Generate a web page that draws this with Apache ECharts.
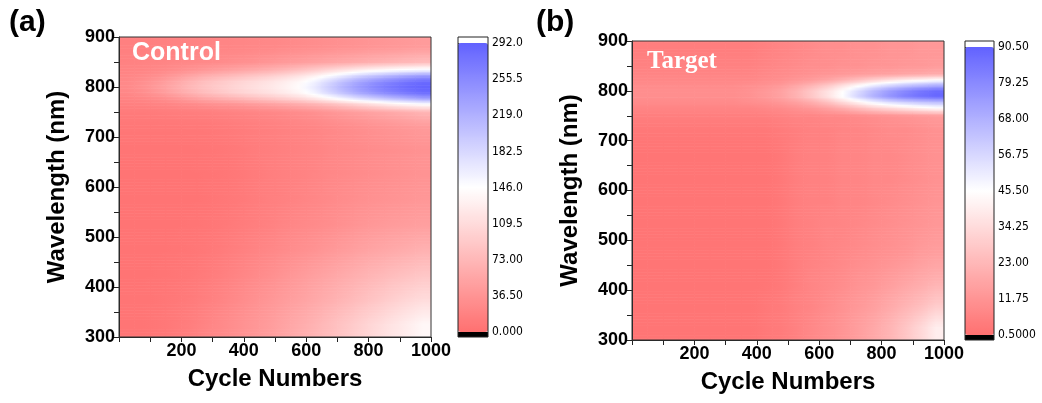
<!DOCTYPE html>
<html><head><meta charset="utf-8">
<script src="https://cdn.jsdelivr.net/npm/echarts@6/dist/echarts.min.js"></script>
<style>html,body{margin:0;padding:0;background:#fff}#c{width:1042px;height:403px}</style>
</head><body><div id="c"></div>
<script>
// ---- data ----
const cycleEdges = [0,50,100,150,200,250,300,350,400,450,500,550,600,650,700,750,800,850,900,950,1000];
const wlEdges = [300,350,400,450,500,550,600,650,700,740,760,772,784,794,806,816,828,840,860,900];
const xTickLabels = [200,400,600,800,1000];
const yTickLabels = [300,400,500,600,700,800,900];
const cbLabelsA = ['0.000','36.50','73.00','109.5','146.0','182.5','219.0','255.5','292.0'];
const cbLabelsB = ['0.5000','11.75','23.00','34.25','45.50','56.75','68.00','79.25','90.50'];
const rangeA = [0, 292];
const rangeB = [0.5, 90.5];
// rows: index 0 = lowest wavelength band
const controlValues = [
 [5,5,7,10,14,20,26,32,38,44,52,60,68,78,88,98,108,118,128,138],
 [5,5,6,8,11,15,20,26,32,38,44,50,57,64,72,80,88,96,104,110],
 [4,4,5,6,8,11,15,20,25,30,36,42,48,54,60,66,72,78,83,88],
 [4,4,4,5,6,8,11,15,19,23,27,31,35,40,45,50,54,58,62,66],
 [4,4,4,4,5,6,8,11,14,17,21,24,27,30,34,38,41,44,46,48],
 [4,4,4,4,4,5,7,9,12,15,17,20,23,26,29,32,34,36,38,40],
 [4,4,4,4,4,5,6,8,11,14,16,18,21,24,26,28,30,32,34,36],
 [5,5,5,5,5,6,7,9,12,14,16,18,20,23,25,27,29,31,33,35],
 [7,7,7,7,8,8,10,12,14,16,18,20,22,25,28,31,34,37,40,43],
 [11,11,12,13,14,15,17,19,21,23,26,29,33,38,43,48,53,58,64,70],
 [16,17,19,22,26,30,34,38,43,48,54,60,68,78,90,103,116,128,138,146],
 [20,23,28,36,46,56,64,72,80,88,98,108,123,143,163,183,198,213,226,238],
 [24,30,40,53,66,78,88,98,106,114,124,136,156,183,208,230,248,262,274,283],
 [26,33,44,58,72,84,94,104,112,120,130,143,166,194,220,242,260,274,284,290],
 [25,31,41,54,68,80,90,100,108,116,126,138,158,184,210,232,250,264,276,284],
 [22,26,32,42,53,64,72,80,88,96,106,118,133,153,173,193,208,222,234,244],
 [20,21,24,28,34,40,46,52,58,64,72,82,93,106,118,130,140,148,154,158],
 [18,19,20,22,24,26,28,31,34,38,42,46,50,54,58,62,66,70,74,78],
 [16,16,17,18,19,20,21,22,23,24,26,28,30,32,34,36,38,40,42,44]
];
const targetValues = [
 [2,2,2,2,2,2,2,2,3,4,6,8,10,12,15,18,22,27,33,40],
 [2,2,2,2,2,2,2,2,3,4,6,7,9,11,13,15,18,21,24,28],
 [2,2,2,2,2,2,2,2,2,3,5,7,8,9,11,12,14,16,18,20],
 [2,2,2,2,2,2,2,2,2,3,5,6,7,8,9,10,11,12,14,15],
 [2,2,2,2,2,2,2,2,2,3,5,6,7,7,8,9,10,11,12,13],
 [2,2,2,2,2,2,2,2,2,3,5,6,6,7,7,8,9,10,11,12],
 [2,2,2,2,2,2,2,2,2,3,5,6,6,7,7,8,8,9,10,11],
 [2,2,2,2,2,2,2,2,2,3,5,6,6,7,7,8,8,9,10,11],
 [3,3,3,3,3,3,3,3,3,4,5,6,6,7,7,8,9,9,10,11],
 [5,5,5,5,5,5,5,5,5,6,7,7,8,8,9,10,11,12,13,14],
 [7,7,7,7,7,7,7,7,8,9,11,13,16,20,25,30,34,38,42,45],
 [9,9,9,9,9,9,9,10,11,13,16,20,26,34,42,50,56,60,63,65],
 [10,10,10,10,10,10,10,11,13,16,21,28,36,46,58,68,76,82,86,89],
 [10,10,10,10,10,10,10,11,13,16,21,28,36,45,56,66,74,80,85,88],
 [9,9,9,9,9,9,9,10,11,13,17,22,28,36,44,52,58,63,67,70],
 [8,8,8,8,8,8,8,8,9,10,12,14,17,21,26,31,36,40,43,46],
 [7,7,7,7,7,7,7,7,8,9,10,11,12,13,14,15,16,17,18,19],
 [6,6,6,6,6,6,6,6,7,8,9,10,10,11,11,12,12,13,13,14],
 [5,5,5,5,5,5,5,5,6,7,8,9,10,10,11,11,12,12,13,13]
];

// ---- build ----
const palette = ['#ff7070', '#ffffff', '#6262ff'];
const xCenters = cycleEdges.slice(0, -1).map((e, i) => (e + cycleEdges[i+1]) / 2);
const yCenters = wlEdges.slice(0, -1).map((e, j) => (e + wlEdges[j+1]) / 2);
function cells(mat){
  const out = [];
  mat.forEach((row, j) => row.forEach((v, i) => out.push([i, j, v])));
  return out;
}
function colorAt(v, range){
  let t = (v - range[0]) / (range[1] - range[0]);
  t = Math.max(0, Math.min(1, t));
  return echarts.color.lerp(t, palette);
}
function bracket(centers, x){
  const n = centers.length;
  if (x <= centers[0]) return [0, 0, 0];
  if (x >= centers[n-1]) return [n-1, n-1, 0];
  let k = 0;
  while (centers[k+1] < x) k++;
  return [k, k+1, (x - centers[k]) / (centers[k+1] - centers[k])];
}
// smooth shading between the read cell values (display only)
function shade(mat, x, y){
  const [i0, i1, fx] = bracket(xCenters, x);
  const [j0, j1, fy] = bracket(yCenters, y);
  const a = mat[j0][i0] * (1 - fx) + mat[j0][i1] * fx;
  const b = mat[j1][i0] * (1 - fx) + mat[j1][i1] * fx;
  return a * (1 - fy) + b * fy;
}
function makeRenderer(mat, range){
  return function(params, api){
    const i = api.value(0), j = api.value(1);
    const x0 = cycleEdges[i], x1 = cycleEdges[i+1], xc = xCenters[i];
    const y0 = wlEdges[j], y1 = wlEdges[j+1];
    const pa = api.coord([x0, y0]), pb = api.coord([x1, y1]);
    const hPx = pa[1] - pb[1];
    const n = Math.max(1, Math.ceil(hPx / 1.5));
    const children = [];
    for (let k = 0; k < n; k++){
      const ya = y0 + (y1 - y0) * k / n, yb = y0 + (y1 - y0) * (k + 1) / n;
      const ym = (ya + yb) / 2;
      const q0 = api.coord([x0, ya]), q1 = api.coord([x1, yb]);
      const grad = new echarts.graphic.LinearGradient(0, 0, 1, 0, [
        {offset:0, color:colorAt(shade(mat, x0, ym), range)},
        {offset:0.5, color:colorAt(shade(mat, xc, ym), range)},
        {offset:1, color:colorAt(shade(mat, x1, ym), range)}
      ]);
      children.push({type:'rect', shape:{x:q0[0]-0.3, y:q1[1]-0.3, width:q1[0]-q0[0]+0.6, height:q0[1]-q1[1]+0.6},
        style:{fill:grad}});
    }
    return {type:'group', children};
  };
}
const SANS = 'Liberation Sans, Arial, Helvetica, sans-serif';
const NARROW = 'DejaVu Sans Condensed, Liberation Sans Narrow, Arial Narrow, sans-serif';

function mainX(gi){
  return {gridIndex: gi, type:'value', min:0, max:1000, interval:100, z:10,
    name:'Cycle Numbers', nameLocation:'middle', nameGap:30,
    nameTextStyle:{fontFamily:SANS, fontWeight:'bold', fontSize:24, color:'#000'},
    axisLine:{lineStyle:{color:'#222', width:1}},
    axisTick:{length:5, lineStyle:{color:'#222'}},
    axisLabel:{margin:5, fontFamily:SANS, fontWeight:'bold', fontSize:18, color:'#000',
      formatter: v => xTickLabels.indexOf(v) >= 0 ? String(v) : ''},
    splitLine:{show:false}};
}
function mainY(gi){
  return {gridIndex: gi, type:'value', min:300, max:900, interval:50, z:10,
    name:'Wavelength (nm)', nameLocation:'middle', nameGap:50,
    nameTextStyle:{fontFamily:SANS, fontWeight:'bold', fontSize:24, color:'#000'},
    axisLine:{lineStyle:{color:'#222', width:1}},
    axisTick:{length:5, lineStyle:{color:'#222'}},
    axisLabel:{margin:4, fontFamily:SANS, fontWeight:'bold', fontSize:18, color:'#000',
      formatter: v => yTickLabels.indexOf(v) >= 0 ? String(v) : ''},
    splitLine:{show:false}};
}
function cbX(gi){ return {gridIndex:gi, type:'value', show:false, min:0, max:1}; }
function cbY(gi, labels){
  return {gridIndex:gi, type:'value', min:0, max:8, interval:1, position:'right',
    axisLine:{show:false}, splitLine:{show:false},
    axisTick:{show:true, length:5, lineStyle:{color:'#444'}},
    axisLabel:{margin:4, fontFamily:NARROW, fontSize:12, color:'#000', formatter: v => labels[v]}};
}

const option = {
  animation:false,
  backgroundColor:'#fff',
  grid:[
    {left:119, top:37, width:312, height:300},
    {left:458, top:43, width:30, height:289},
    {left:632, top:41, width:312, height:299},
    {left:965, top:47, width:29, height:288}
  ],
  xAxis:[mainX(0), cbX(1), mainX(2), cbX(3)],
  yAxis:[mainY(0), cbY(1, cbLabelsA), mainY(2), cbY(3, cbLabelsB)],
  visualMap:[
    {type:'continuous', min:rangeA[0], max:rangeA[1], seriesIndex:0, dimension:2,
     left:458, top:43, itemWidth:30, itemHeight:289, padding:0, calculable:false,
     inRange:{color:palette}},
    {type:'continuous', min:rangeB[0], max:rangeB[1], seriesIndex:1, dimension:2,
     left:965, top:47, itemWidth:29, itemHeight:288, padding:0, calculable:false,
     inRange:{color:palette}}
  ],
  series:[
    {type:'custom', xAxisIndex:0, yAxisIndex:0, clip:true, renderItem:makeRenderer(controlValues, rangeA),
     encode:{x:0, y:1}, data:cells(controlValues)},
    {type:'custom', xAxisIndex:2, yAxisIndex:2, clip:true, renderItem:makeRenderer(targetValues, rangeB),
     encode:{x:0, y:1}, data:cells(targetValues)}
  ],
  graphic:[
    {type:'rect', z:100, shape:{x:119, y:37, width:312, height:300}, style:{fill:null, stroke:'#333', lineWidth:1}},
    {type:'rect', z:100, shape:{x:632, y:41, width:312, height:299}, style:{fill:null, stroke:'#333', lineWidth:1}},
    {type:'rect', z:99, shape:{x:458, y:37, width:30, height:6}, style:{fill:'#fff'}},
    {type:'rect', z:99, shape:{x:458, y:332, width:30, height:5}, style:{fill:'#000'}},
    {type:'rect', z:100, shape:{x:458, y:37, width:30, height:300}, style:{fill:null, stroke:'#222', lineWidth:1}},
    {type:'rect', z:99, shape:{x:965, y:41, width:29, height:6}, style:{fill:'#fff'}},
    {type:'rect', z:99, shape:{x:965, y:335, width:29, height:5}, style:{fill:'#000'}},
    {type:'rect', z:100, shape:{x:965, y:41, width:29, height:299}, style:{fill:null, stroke:'#222', lineWidth:1}},
    {type:'text', z:100, left:9, top:8, style:{text:'(a)', font:'bold 30px '+SANS, fill:'#000'}},
    {type:'text', z:100, left:536, top:8, style:{text:'(b)', font:'bold 30px '+SANS, fill:'#000'}},
    {type:'text', z:100, left:132, top:41, style:{text:'Control', font:'bold 25px '+SANS, fill:'#fff'}},
    {type:'text', z:100, left:647, top:49, style:{text:'Target', font:'bold 25px Liberation Serif, Times New Roman, serif', fill:'#fff'}}
  ]
};
const chart = echarts.init(document.getElementById('c'), null, {renderer:'canvas'});
chart.setOption(option);
</script></body></html>
